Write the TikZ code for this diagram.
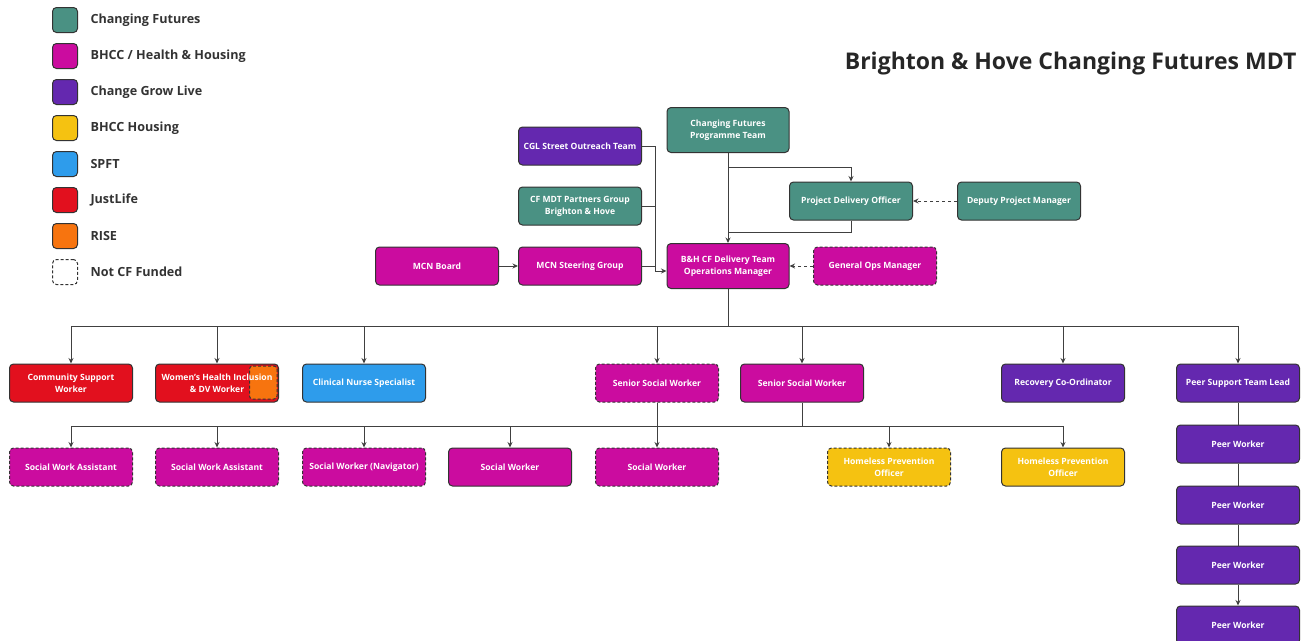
\documentclass[tikz,border=0pt]{standalone}
\usepackage{fontspec}
\setmainfont{Open Sans}
\usetikzlibrary{positioning, calc, arrows.meta}

\definecolor{cfteal}{HTML}{4A9183}
\definecolor{bhcc}{HTML}{CB0C9F}
\definecolor{cgl}{HTML}{6428AF}
\definecolor{housing}{HTML}{F5C211}
\definecolor{spft}{HTML}{2E9CEB}
\definecolor{justlife}{HTML}{E2101E}
\definecolor{riseorange}{HTML}{F7740F}
\definecolor{edgegray}{HTML}{333333}

\tikzset{
  box/.style={rectangle, draw=edgegray, line width=1pt, rounded corners=4pt, minimum width=123pt, minimum height=38pt, align=center, text=white, font=\bfseries\fontsize{8.6}{12}\selectfont, inner sep=1pt},
  tall/.style={minimum height=45pt, minimum width=122pt},
  notcf/.style={dash pattern=on 3pt off 2pt},
  key/.style={rectangle, draw=edgegray, line width=1pt, rounded corners=4pt, minimum size=25pt, inner sep=0pt},
  keytext/.style={anchor=west, font=\bfseries\fontsize{12.6}{15}\selectfont, text=black!80},
  link/.style={draw=black!75, line width=1pt},
  tip/.style={-{Stealth[length=5.5pt,width=5pt]}}
}

\begin{document}
\begin{tikzpicture}[x=1pt, y=-1pt]
    \useasboundingbox (0,0) rectangle (1313,640);

    % legend
    \node[key, fill=cfteal] (k1) at (65,20) {};
    \node[key, fill=bhcc] (k2) at (65,56) {};
    \node[key, fill=cgl] (k3) at (65,92) {};
    \node[key, fill=housing] (k4) at (65,128) {};
    \node[key, fill=spft] (k5) at (65,164) {};
    \node[key, fill=justlife] (k6) at (65,200) {};
    \node[key, fill=riseorange] (k7) at (65,236) {};
    \node[key, fill=white, notcf] (k8) at (65,272) {};
    \node[keytext] at ([xshift=9pt]k1.east) {Changing Futures};
    \node[keytext] at ([xshift=9pt]k2.east) {BHCC / Health \& Housing};
    \node[keytext] at ([xshift=9pt]k3.east) {Change Grow Live};
    \node[keytext] at ([xshift=9pt]k4.east) {BHCC Housing};
    \node[keytext] at ([xshift=9pt]k5.east) {SPFT};
    \node[keytext] at ([xshift=9pt]k6.east) {JustLife};
    \node[keytext] at ([xshift=9pt]k7.east) {RISE};
    \node[keytext] at ([xshift=9pt]k8.east) {Not CF Funded};

    \node[anchor=east, font=\bfseries\fontsize{23}{27}\selectfont, text=black!85] (title) at (1300,64) {Brighton \& Hove Changing Futures MDT};

    % top of the structure
    \node[box, tall, fill=cfteal] (cfpt) at (728,130) {Changing Futures\\Programme Team};
    \node[box, fill=cgl] (cgl) at (580,146) {CGL Street Outreach Team};
    \node[box, fill=cfteal] (partners) at (580,206) {CF MDT Partners Group\\Brighton \& Hove};
    \node[box, fill=cfteal] (pdo) at (851,201) {Project Delivery Officer};
    \node[box, fill=cfteal] (deputy) at (1019,201) {Deputy Project Manager};
    \node[box, fill=bhcc] (mcnboard) at (437,266) {MCN Board};
    \node[box, fill=bhcc] (mcnsteer) at (580,266) {MCN Steering Group};
    \node[box, tall, fill=bhcc] (opsman) at (728,266) {B\&H CF Delivery Team\\Operations Manager};
    \node[box, fill=bhcc, notcf] (genops) at (875,266) {General Ops Manager};

    % middle row
    \node[box, fill=justlife] (csw) at (71,383) {Community Support\\Worker};
    \node[box, fill=justlife, path picture={
        \draw[draw=edgegray, line width=1pt, notcf, fill=riseorange, rounded corners=3pt]
          ([xshift=-1.5pt,yshift=-2pt]path picture bounding box.north east) rectangle
          ([xshift=-29pt,yshift=3pt]path picture bounding box.south east);}] (whd) at (217,383) {Women's Health Inclusion\\\& DV Worker};
    \node[box, fill=spft] (cns) at (364,383) {Clinical Nurse Specialist};
    \node[box, fill=bhcc, notcf] (ssw1) at (657,383) {Senior Social Worker};
    \node[box, fill=bhcc] (ssw2) at (802,383) {Senior Social Worker};
    \node[box, fill=cgl] (rco) at (1063,383) {Recovery Co-Ordinator};
    \node[box, fill=cgl] (pstl) at (1238,383) {Peer Support Team Lead};

    % bottom row
    \node[box, fill=bhcc, notcf] (swa1) at (71,467) {Social Work Assistant};
    \node[box, fill=bhcc, notcf] (swa2) at (217,467) {Social Work Assistant};
    \node[box, fill=bhcc, notcf] (swnav) at (364,467) {Social Worker (Navigator)};
    \node[box, fill=bhcc] (sw1) at (510,467) {Social Worker};
    \node[box, fill=bhcc, notcf] (sw2) at (657,467) {Social Worker};
    \node[box, fill=housing, notcf] (hpo1) at (889,467) {Homeless Prevention\\Officer};
    \node[box, fill=housing] (hpo2) at (1063,467) {Homeless Prevention\\Officer};

    % peer workers
    \node[box, fill=cgl] (pw1) at (1238,444) {Peer Worker};
    \node[box, fill=cgl] (pw2) at (1238,505) {Peer Worker};
    \node[box, fill=cgl] (pw3) at (1238,565) {Peer Worker};
    \node[box, fill=cgl] (pw4) at (1238,625) {Peer Worker};

    % connectors
    \coordinate (split) at (728,167);
    \coordinate (merge) at (728,232);
    \coordinate (feed) at (655,271);
    \coordinate (bus) at (728,326);
    \coordinate (subbus) at (802,426);

    \draw[link, tip] (cfpt) -- (opsman);
    \draw[link, tip] (split) -| (pdo.north);
    \draw[link] (pdo.south) |- (merge);
    \draw[link, tip, dashed] (deputy) -- (pdo);
    \draw[link, tip, dashed] (genops) -- (opsman);
    \draw[link, tip] (mcnboard) -- (mcnsteer);
    \draw[link] (cgl.east) -| (feed);
    \draw[link] (partners.east) -- (partners.east -| feed);
    \draw[link] (mcnsteer.east) -- (mcnsteer.east -| feed);
    \draw[link, tip] (feed) -- (feed -| opsman.west);

    \draw[link] (opsman.south) -- (bus);
    \foreach \n in {csw, whd, cns, ssw1, ssw2, rco, pstl}
        \draw[link, tip] (bus) -| (\n.north);

    \draw[link] (ssw2.south) -- (subbus);
    \foreach \n in {swa1, swa2, swnav, sw1, hpo1, hpo2}
        \draw[link, tip] (subbus) -| (\n.north);
    \draw[link, tip] (ssw1) -- (sw2);

    \draw[link] (pstl) -- (pw1);
    \draw[link] (pw1) -- (pw2);
    \draw[link] (pw2) -- (pw3);
    \draw[link, tip] (pw3) -- (pw4);
\end{tikzpicture}
\end{document}
